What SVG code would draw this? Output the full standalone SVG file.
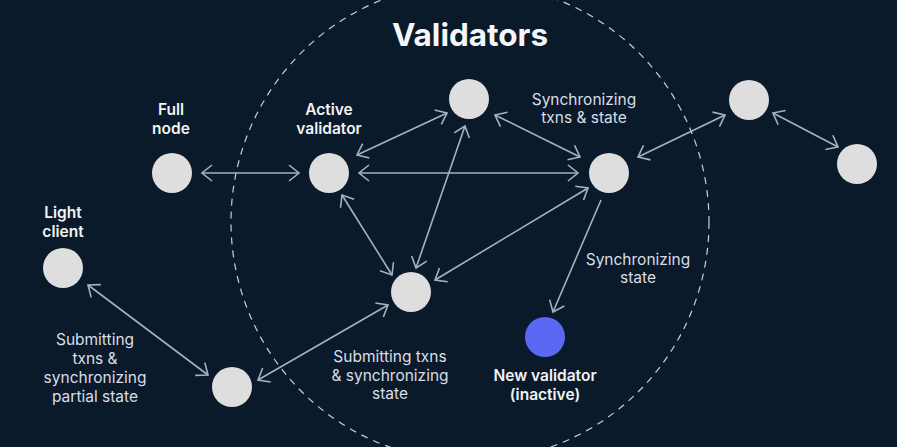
<svg xmlns="http://www.w3.org/2000/svg" width="897" height="447" viewBox="0 0 897 447">
<style>
.bg{fill:#0b1a2b}
.node{fill:#dededf}
.new{fill:#5b68f4}
.ring{fill:none;stroke:#c9ced6;stroke-width:1.2;stroke-dasharray:7 6}
.edge{fill:none;stroke:#a7b1be;stroke-width:1.6}
.title{font-family:Inter,"Noto Sans",sans-serif;font-weight:700;font-size:31.5px;fill:#f4f6f8;text-anchor:middle}
.lbl{font-family:Inter,"Noto Sans",sans-serif;font-weight:600;font-size:15.5px;fill:#f1f3f5;text-anchor:middle}
.cap{font-family:Inter,"Noto Sans",sans-serif;font-weight:400;font-size:15.5px;fill:#d9dee4;text-anchor:middle}
</style>
<defs>
<marker id="ah" viewBox="-12 -10 14 20" refX="0" refY="0" markerWidth="14" markerHeight="20" markerUnits="userSpaceOnUse" orient="auto-start-reverse">
<path d="M-10,-8 L0,0 L-10,8" fill="none" stroke="#a7b1be" stroke-width="1.6" stroke-linejoin="miter"/>
</marker>
</defs>
<rect class="bg" x="0" y="0" width="897" height="447"/>
<circle class="ring" cx="470" cy="222" r="239"/>
<text class="title" x="470" y="46">Validators</text>
<g id="connectors">
<line class="edge" x1="202" y1="173" x2="299" y2="173" marker-start="url(#ah)" marker-end="url(#ah)"/>
<line class="edge" x1="357" y1="155" x2="447" y2="113" marker-start="url(#ah)" marker-end="url(#ah)"/>
<line class="edge" x1="359" y1="173" x2="578" y2="173" marker-start="url(#ah)" marker-end="url(#ah)"/>
<line class="edge" x1="342" y1="195" x2="392" y2="275" marker-start="url(#ah)" marker-end="url(#ah)"/>
<line class="edge" x1="465" y1="126" x2="416" y2="268" marker-start="url(#ah)" marker-end="url(#ah)"/>
<line class="edge" x1="495" y1="115" x2="580" y2="157" marker-start="url(#ah)" marker-end="url(#ah)"/>
<line class="edge" x1="435" y1="280" x2="588" y2="188" marker-start="url(#ah)" marker-end="url(#ah)"/>
<line class="edge" x1="638" y1="157" x2="725" y2="115" marker-start="url(#ah)" marker-end="url(#ah)"/>
<line class="edge" x1="773" y1="113" x2="838" y2="147" marker-start="url(#ah)" marker-end="url(#ah)"/>
<line class="edge" x1="88" y1="285" x2="208" y2="375" marker-start="url(#ah)" marker-end="url(#ah)"/>
<line class="edge" x1="258" y1="380" x2="388" y2="305" marker-start="url(#ah)" marker-end="url(#ah)"/>
<line class="edge" x1="601" y1="200" x2="553" y2="312" marker-end="url(#ah)"/>
</g>
<g id="full-node">
<circle class="node" cx="172" cy="173" r="20"/>
<text class="lbl" x="171" y="115">Full</text>
<text class="lbl" x="171" y="134">node</text>
</g>
<g id="active-validator">
<circle class="node" cx="329" cy="173" r="20"/>
<text class="lbl" x="329" y="115">Active</text>
<text class="lbl" x="329" y="134">validator</text>
</g>
<g id="validator-top">
<circle class="node" cx="469" cy="99" r="20"/>
</g>
<g id="validator-right">
<circle class="node" cx="609" cy="173" r="20"/>
</g>
<g id="validator-center">
<circle class="node" cx="411" cy="292" r="20"/>
</g>
<g id="outer-top">
<circle class="node" cx="749" cy="100" r="20"/>
</g>
<g id="outer-right">
<circle class="node" cx="857" cy="164" r="20"/>
</g>
<g id="light-client">
<circle class="node" cx="63" cy="268" r="20"/>
<text class="lbl" x="63" y="218">Light</text>
<text class="lbl" x="63" y="237">client</text>
</g>
<g id="bottom-left">
<circle class="node" cx="232" cy="387" r="20"/>
</g>
<g id="new-validator">
<circle class="new" cx="545" cy="337" r="20"/>
<text class="lbl" x="545" y="381">New validator</text>
<text class="lbl" x="545" y="400">(inactive)</text>
</g>
<g id="labels">
<text class="cap" x="584" y="105">Synchronizing</text>
<text class="cap" x="584" y="123">txns &amp; state</text>
<text class="cap" x="638" y="265">Synchronizing</text>
<text class="cap" x="638" y="283">state</text>
<text class="cap" x="390" y="362">Submitting txns</text>
<text class="cap" x="390" y="381">&amp; synchronizing</text>
<text class="cap" x="390" y="399">state</text>
<text class="cap" x="95" y="345">Submitting</text>
<text class="cap" x="95" y="364">txns &amp;</text>
<text class="cap" x="95" y="383">synchronizing</text>
<text class="cap" x="95" y="402">partial state</text>
</g>
</svg>
